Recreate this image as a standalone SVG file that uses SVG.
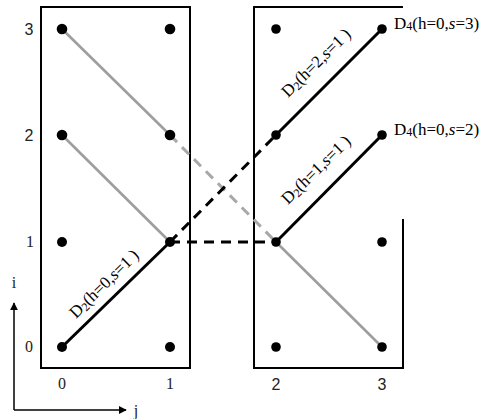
<svg xmlns="http://www.w3.org/2000/svg" width="481" height="419" viewBox="0 0 481 419">
<style>
.frame{fill:none;stroke:#000;stroke-width:2}
.dot{fill:#000}
.g{stroke:#9e9e9e;stroke-width:2.6;fill:none}
.gd{stroke:#a8a8a8;stroke-width:3;fill:none;stroke-dasharray:10,7}
.b{stroke:#000;stroke-width:3;fill:none}
.bd{stroke:#000;stroke-width:3;fill:none;stroke-dasharray:10,7}
.lbl{font-family:"Liberation Serif",serif;font-size:17px;fill:#000}
.sub{font-size:12px}
.ns{font-family:"Liberation Sans",sans-serif;font-size:16px;fill:#222;text-anchor:middle}
.nr{font-family:"Liberation Serif",serif;font-size:16px;fill:#222;text-anchor:middle}
</style>
<defs>
<marker id="ah" viewBox="0 0 10 10" refX="9" refY="5" markerWidth="8" markerHeight="8" markerUnits="userSpaceOnUse" orient="auto">
<path d="M0,0 L10,5 L0,10 z" fill="#000"/>
</marker>
</defs>
<g id="frames">
<rect class="frame" x="41" y="7" width="149" height="361"/>
<path class="frame" d="M403,7 H254 V368 H403 V219"/>
</g>
<g id="connectors">
<line class="g" x1="62" y1="29" x2="170" y2="135"/>
<line class="gd" x1="170" y1="135" x2="276" y2="242"/>
<line class="g" x1="276" y1="242" x2="382" y2="347"/>
<line class="g" x1="62" y1="135" x2="170" y2="242"/>
<line class="b" x1="62" y1="347" x2="170" y2="242"/>
<line class="bd" x1="170" y1="242" x2="276" y2="135"/>
<line class="b" x1="276" y1="135" x2="382" y2="29"/>
<line class="bd" x1="170" y1="242" x2="276" y2="242"/>
<line class="b" x1="276" y1="242" x2="382" y2="135"/>
</g>
<g id="dots">
<circle class="dot" cx="62" cy="29" r="5.3"/>
<circle class="dot" cx="170" cy="29" r="5.3"/>
<circle class="dot" cx="62" cy="135" r="5.3"/>
<circle class="dot" cx="170" cy="135" r="5.3"/>
<circle class="dot" cx="62" cy="242" r="5"/>
<circle class="dot" cx="170" cy="242" r="5"/>
<circle class="dot" cx="62" cy="347" r="5"/>
<circle class="dot" cx="170" cy="347" r="5"/>
<circle class="dot" cx="276" cy="29" r="4.8"/>
<circle class="dot" cx="382" cy="29" r="4.8"/>
<circle class="dot" cx="276" cy="135" r="4.8"/>
<circle class="dot" cx="382" cy="135" r="4.8"/>
<circle class="dot" cx="276" cy="242" r="4.8"/>
<circle class="dot" cx="382" cy="242" r="4.8"/>
<circle class="dot" cx="276" cy="347" r="4.8"/>
<circle class="dot" cx="382" cy="347" r="4.8"/>
</g>
<g id="labels">
<text class="lbl" transform="translate(76,319) rotate(-44.5)">D<tspan class="sub" dy="2">2</tspan><tspan dy="-2">(h=0,</tspan><tspan font-style="italic">s</tspan>=1 )</text>
<text class="lbl" transform="translate(288,98) rotate(-44.5)">D<tspan class="sub" dy="2">2</tspan><tspan dy="-2">(h=2,</tspan><tspan font-style="italic">s</tspan>=1 )</text>
<text class="lbl" transform="translate(288,205) rotate(-44.5)">D<tspan class="sub" dy="2">2</tspan><tspan dy="-2">(h=1,</tspan><tspan font-style="italic">s</tspan>=1 )</text>
<text class="lbl" x="394" y="29">D<tspan class="sub" dy="1">4</tspan><tspan dy="-1">(h=0,</tspan><tspan font-style="italic">s</tspan>=3)</text>
<text class="lbl" x="394" y="135">D<tspan class="sub" dy="1">4</tspan><tspan dy="-1">(h=0,</tspan><tspan font-style="italic">s</tspan>=2)</text>
</g>
<g id="axis-numbers">
<text class="ns" x="29" y="35">3</text>
<text class="ns" x="29" y="141">2</text>
<text class="nr" x="30" y="247">1</text>
<text class="nr" x="29" y="352">0</text>
<text class="nr" x="62" y="389">0</text>
<text class="nr" x="170" y="389">1</text>
<text class="ns" x="276" y="390">2</text>
<text class="ns" x="382" y="390">3</text>
</g>
<g id="axes">
<path d="M14,410 V303" stroke="#000" stroke-width="1.5" fill="none" marker-end="url(#ah)"/>
<path d="M14,410 H126" stroke="#000" stroke-width="1.5" fill="none" marker-end="url(#ah)"/>
<text class="nr" x="14" y="288">i</text>
<text class="nr" x="136" y="416">j</text>
</g>
</svg>
